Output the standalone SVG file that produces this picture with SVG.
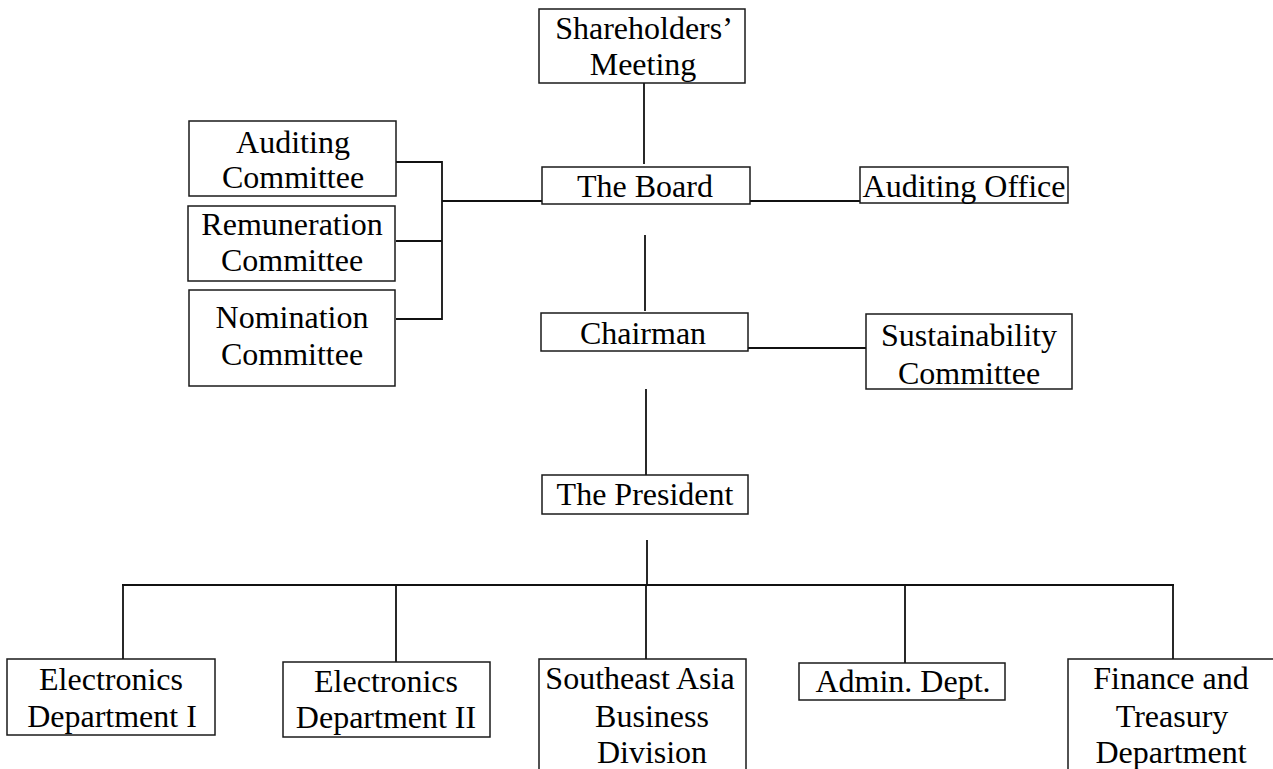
<svg xmlns="http://www.w3.org/2000/svg" width="1273" height="769" viewBox="0 0 1273 769">
  <style>
    .box { fill: #ffffff; stroke: #1a1a1a; stroke-width: 1.5; }
    .lbl { font-family: "Liberation Serif", "Times New Roman", serif; font-size: 32px; fill: #000000; text-anchor: middle; }
    .wire { fill: none; stroke: #111111; stroke-width: 1.8; }
  </style>
  <rect width="1273" height="769" fill="#ffffff"/>

  <!-- connectors -->
  <g id="connectors">
    <line class="wire" x1="644" y1="79" x2="644" y2="164"/>
    <polyline class="wire" points="396,162 442,162 442,319 396,319"/>
    <line class="wire" x1="396" y1="241" x2="442" y2="241"/>
    <line class="wire" x1="442" y1="201" x2="542" y2="201"/>
    <line class="wire" x1="750" y1="201" x2="860" y2="201"/>
    <line class="wire" x1="645" y1="235" x2="645" y2="311"/>
    <line class="wire" x1="748" y1="348" x2="866" y2="348"/>
    <line class="wire" x1="646" y1="389" x2="646" y2="477"/>
    <line class="wire" x1="647" y1="540" x2="647" y2="585"/>
    <line class="wire" x1="122" y1="585" x2="1174" y2="585"/>
    <line class="wire" x1="123" y1="585" x2="123" y2="659"/>
    <line class="wire" x1="396" y1="585" x2="396" y2="662"/>
    <line class="wire" x1="646" y1="585" x2="646" y2="659"/>
    <line class="wire" x1="905" y1="585" x2="905" y2="663"/>
    <line class="wire" x1="1173" y1="585" x2="1173" y2="659"/>
  </g>

  <g id="shareholders">
    <rect class="box" x="539" y="9" width="206" height="74"/>
    <text class="lbl" x="644" y="39">Shareholders’</text>
    <text class="lbl" x="643" y="75">Meeting</text>
  </g>

  <g id="auditing-committee">
    <rect class="box" x="189" y="121" width="207" height="75"/>
    <text class="lbl" x="293" y="153">Auditing</text>
    <text class="lbl" x="293" y="188">Committee</text>
  </g>

  <g id="remuneration-committee">
    <rect class="box" x="188" y="206" width="207" height="75"/>
    <text class="lbl" x="292" y="235">Remuneration</text>
    <text class="lbl" x="292" y="271">Committee</text>
  </g>

  <g id="nomination-committee">
    <rect class="box" x="189" y="290" width="206" height="96"/>
    <text class="lbl" x="292" y="328">Nomination</text>
    <text class="lbl" x="292" y="365">Committee</text>
  </g>

  <g id="board">
    <rect class="box" x="542" y="167" width="208" height="37"/>
    <text class="lbl" x="645" y="197">The Board</text>
  </g>

  <g id="auditing-office">
    <rect class="box" x="860" y="167" width="208" height="36"/>
    <text class="lbl" x="964" y="197">Auditing Office</text>
  </g>

  <g id="chairman">
    <rect class="box" x="541" y="313" width="207" height="38"/>
    <text class="lbl" x="643" y="344">Chairman</text>
  </g>

  <g id="sustainability-committee">
    <rect class="box" x="866" y="314" width="206" height="75"/>
    <text class="lbl" x="969" y="346">Sustainability</text>
    <text class="lbl" x="969" y="384">Committee</text>
  </g>

  <g id="president">
    <rect class="box" x="542" y="475" width="206" height="39"/>
    <text class="lbl" x="645" y="505">The President</text>
  </g>

  <g id="electronics-1">
    <rect class="box" x="7" y="659" width="208" height="76"/>
    <text class="lbl" x="111" y="690">Electronics</text>
    <text class="lbl" x="112" y="727">Department I</text>
  </g>

  <g id="electronics-2">
    <rect class="box" x="283" y="662" width="207" height="75"/>
    <text class="lbl" x="386" y="692">Electronics</text>
    <text class="lbl" x="386" y="728">Department II</text>
  </g>

  <g id="southeast-asia">
    <rect class="box" x="539" y="659" width="207" height="120"/>
    <text class="lbl" x="640" y="689">Southeast Asia</text>
    <text class="lbl" x="652" y="727">Business</text>
    <text class="lbl" x="652" y="763">Division</text>
  </g>

  <g id="admin">
    <rect class="box" x="799" y="663" width="206" height="37"/>
    <text class="lbl" x="903" y="692">Admin. Dept.</text>
  </g>

  <g id="finance">
    <rect class="box" x="1068" y="659" width="212" height="120"/>
    <text class="lbl" x="1171" y="689">Finance and</text>
    <text class="lbl" x="1172" y="727">Treasury</text>
    <text class="lbl" x="1171" y="763">Department</text>
  </g>
</svg>
